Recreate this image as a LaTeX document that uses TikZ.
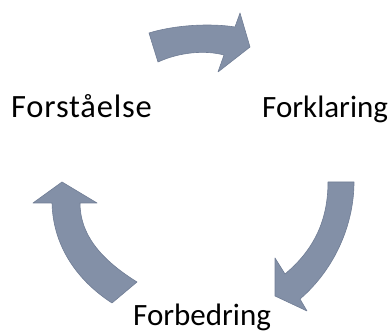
\documentclass[tikz,border=0pt]{standalone}
\usepackage{fontspec}
\setmainfont{Carlito}
\usepackage{tikz}
\usetikzlibrary{positioning}

\definecolor{slate}{RGB}{131,144,167}
\definecolor{slatedark}{RGB}{112,125,149}

\begin{document}
\begin{tikzpicture}[
    x=1pt, y=1pt,
    label/.style={anchor=base west, inner sep=0pt, font=\fontsize{31}{37}\selectfont},
    blockarrow/.style={fill=slate, draw=slatedark, line width=0.6pt, line join=round}
]
\useasboundingbox (0,0) rectangle (391,334);

% Stage labels
\node (understanding) [label, font=\fontsize{32.5}{39}\selectfont] at (11,216) {\addfontfeature{LetterSpace=2.5}Forståelse};
\node (explanation) [label] at (262,216) {Forklaring};
\node (improvement) [label] at (133,8.5) {Forbedring};

% Cycle arrows
\draw [blockarrow] (149,301) .. controls (175,309) and (210,311) .. (235,307)
    -- (240,321) -- (250,287) -- (218,262) -- (224,279)
    .. controls (205,284) and (180,282) .. (158,272) -- cycle;
\draw [blockarrow] (328,152) -- (354,152) .. controls (354,110) and (335,65) .. (300,35)
    -- (307,23) -- (275,38) -- (275,76) -- (285,60)
    .. controls (315,85) and (328,115) .. (328,152) -- cycle;
\draw [blockarrow] (80,131) -- (97,131) -- (62,152) -- (33,131) -- (52,131)
    .. controls (53,90) and (75,55) .. (112,31) -- (137,52)
    .. controls (100,75) and (80,100) .. (80,131) -- cycle;

\end{tikzpicture}
\end{document}
